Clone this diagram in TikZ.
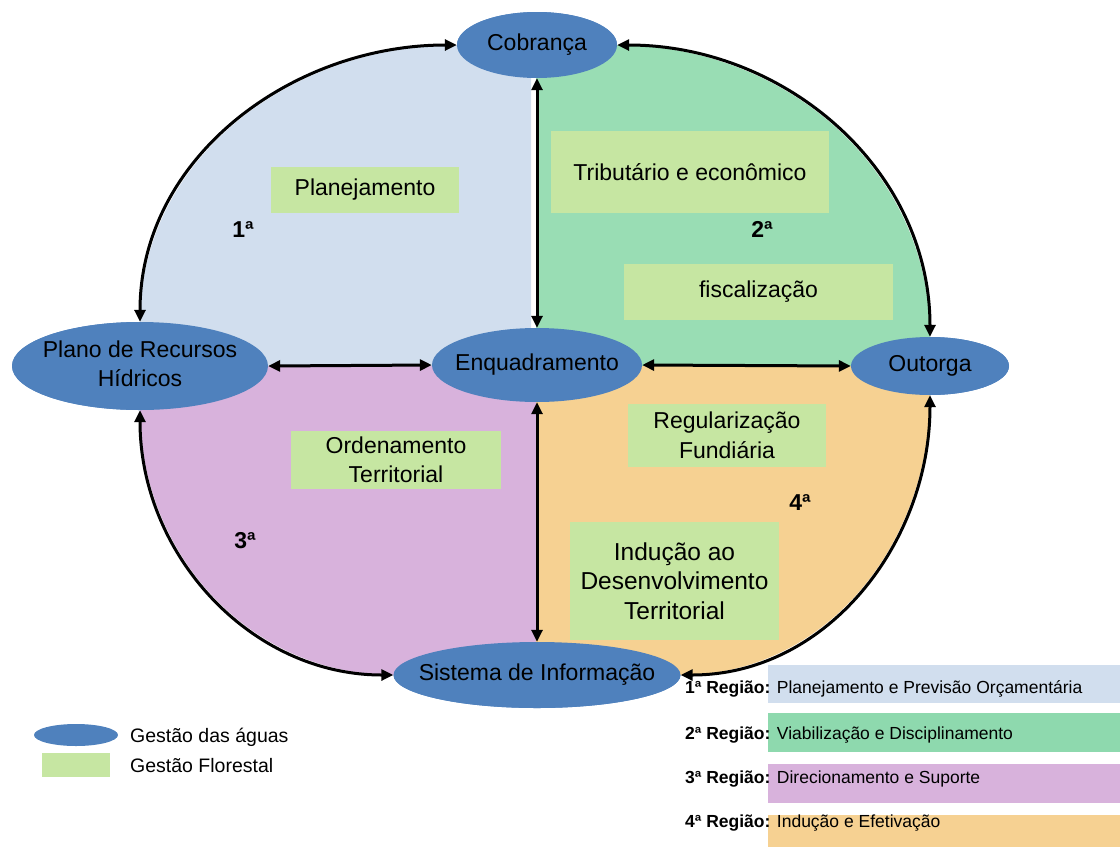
\documentclass[tikz,border=0pt]{standalone}
\usepackage{fontspec}
\setmainfont{Liberation Sans}
\usetikzlibrary{shapes.geometric,arrows.meta}
\definecolor{ellblue}{HTML}{4F81BD}
\definecolor{qblue}{HTML}{D1DEEE}
\definecolor{qgreen}{HTML}{99DDB4}
\definecolor{lgreen}{HTML}{8ED9AE}
\definecolor{qpurple}{HTML}{D8B2DC}
\definecolor{qorange}{HTML}{F6D192}
\definecolor{gfl}{HTML}{C6E6A2}
\begin{document}
\begin{tikzpicture}[x=1pt,y=-1pt,
  ell/.style={ellipse,fill=ellblue,inner sep=0pt},
  lbl/.style={font=\fontsize{23}{28.5}\selectfont,align=center,inner sep=0pt},
  gbox/.style={fill=gfl,inner sep=0pt,font=\fontsize{23}{29.5}\selectfont,align=center},
  arr/.style={line width=3pt,{Triangle[length=12pt,width=11pt]}-{Triangle[length=12pt,width=11pt]}},
  num/.style={font=\bfseries\fontsize{23}{26}\selectfont,inner sep=0pt},
  legtxt/.style={font=\fontsize{17.5}{20}\selectfont,anchor=base west,inner sep=0pt},
  legl/.style={font=\fontsize{19.5}{22}\selectfont,anchor=base west,inner sep=0pt}]
\useasboundingbox (0,0) rectangle (1120,847);
% ellipse nodes (shapes)
\node[ell,minimum width=160,minimum height=66] (cob) at (537,45) {};
\node[ell,minimum width=256,minimum height=88] (plano) at (140,366) {};
\node[ell,minimum width=210,minimum height=74] (enq) at (537,365) {};
\node[ell,minimum width=158,minimum height=58] (out) at (930,366) {};
\node[ell,minimum width=287,minimum height=66] (sis) at (537,675) {};
% quadrant fills
\path[fill=qblue] (531,366) -- (140,366) -- (plano.north) to[out=90,in=180] (cob.west) -- (531,45) -- cycle;
\path[fill=qgreen] (536,366) -- (536,45) -- (cob.east) to[out=0,in=90] (out.north) -- (930,366) -- cycle;
\path[fill=qpurple] (536,366) -- (140,366) -- (plano.south) to[out=-90,in=180] (sis.west) -- (536,675) -- cycle;
\path[fill=qorange] (536,366) -- (930,366) -- (out.south) to[out=-90,in=0] (sis.east) -- (536,675) -- cycle;
% redraw ellipses on top
\node[ell,minimum width=160,minimum height=66] at (cob) {};
\node[ell,minimum width=256,minimum height=88] at (plano) {};
\node[ell,minimum width=210,minimum height=74] at (enq) {};
\node[ell,minimum width=158,minimum height=58] at (out) {};
\node[ell,minimum width=287,minimum height=66] at (sis) {};
\node[lbl] (cobt) at (cob) {Cobrança};
\node[lbl] (planot) at (140,364) {Plano de Recursos\\Hídricos};
\node[lbl] (enqt) at (enq) {Enquadramento};
\node[lbl] (outt) at (out) {Outorga};
\node[lbl] (sist) at (sis) {Sistema de Informação};
% green boxes
\node[gbox,minimum width=188,minimum height=46] (plan) at (365,190) {Planejamento};
\node[gbox,minimum width=278,minimum height=82] (trib) at (690,172) {Tributário e econômico};
\node[gbox,minimum width=269,minimum height=56] (fisc) at (758.5,292) {fiscalização};
\node[gbox,minimum width=198,minimum height=63] (reg) at (727,435.5) {Regularização\\Fundiária};
\node[gbox,minimum width=210,minimum height=58] (ord) at (396,460) {Ordenamento\\Territorial};
\node[gbox,minimum width=209,minimum height=118,font=\fontsize{24.5}{29.5}\selectfont] (ind) at (674.5,581) {Indução ao\\Desenvolvimento\\Territorial};
% region numbers
\node[num] (n1) at (243,230) {1ª};
\node[num] (n2) at (762,229) {2ª};
\node[num] (n3) at (245,541) {3ª};
\node[num] (n4) at (800,503) {4ª};
% connectors
\draw[arr] (plano.north) to[out=90,in=180] (cob.west);
\draw[arr] (cob.east) to[out=0,in=90] (out.north);
\draw[arr] (plano.south) to[out=-90,in=180] (sis.west);
\draw[arr] (out.south) to[out=-90,in=0] (sis.east);
\draw[arr] (cob.south) -- (enq.north);
\draw[arr] (enq.south) -- (sis.north);
\draw[arr] (plano.east) -- (enq.west);
\draw[arr] (enq.east) -- (out.west);
% right legend
\node[fill=qblue,minimum width=352,minimum height=38,inner sep=0pt] (r1) at (944,684) {};
\node[fill=lgreen,minimum width=352,minimum height=39,inner sep=0pt] (r2) at (944,732.5) {};
\node[fill=qpurple,minimum width=352,minimum height=39,inner sep=0pt] (r3) at (944,783.5) {};
\node[fill=qorange,minimum width=352,minimum height=32,inner sep=0pt] (r4) at (944,831) {};
\node[legtxt] (t1) at (685,693) {\textbf{1ª Região:} Planejamento e Previsão Orçamentária};
\node[legtxt] (t2) at (685,739) {\textbf{2ª Região:} Viabilização e Disciplinamento};
\node[legtxt] (t3) at (685,783) {\textbf{3ª Região:} Direcionamento e Suporte};
\node[legtxt] (t4) at (685,827) {\textbf{4ª Região:} Indução e Efetivação};
% left legend
\node[ell,minimum width=84,minimum height=22] (legell) at (76,735) {};
\node[fill=gfl,minimum width=68,minimum height=24,inner sep=0pt] (legrect) at (76,765) {};
\node[legl] (lt1) at (130,742) {Gestão das águas};
\node[legl] (lt2) at (130,772) {Gestão Florestal};
\end{tikzpicture}
\end{document}
